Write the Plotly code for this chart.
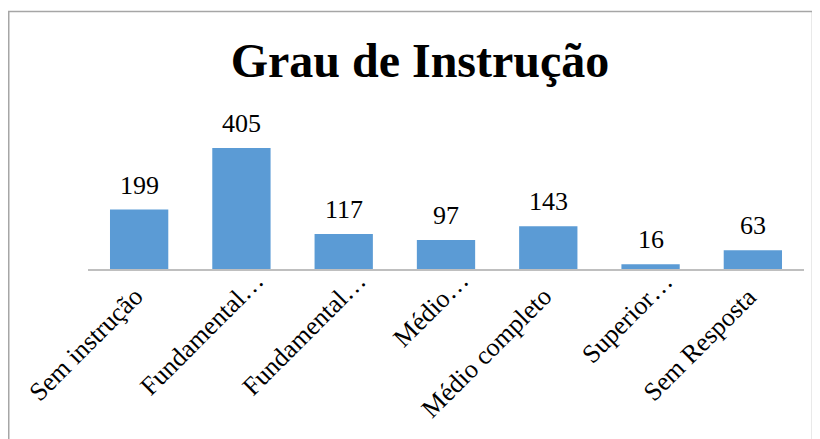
import plotly.graph_objects as go

categories = ["Sem instrução", "Fundamental…", "Fundamental… ", "Médio…", "Médio completo", "Superior…", "Sem Resposta"]
values = [199, 405, 117, 97, 143, 16, 63]

FONT = "Liberation Serif"

# page body has an 8px margin; figure is placed at (8, 8)
W, H = 812, 431
ml, mr, mt, mb = 80, 16, 111, 170
pw, ph = W - ml - mr, H - mt - mb

fig = go.Figure()
fig.add_trace(go.Bar(
    x=categories, y=values,
    marker=dict(color="#5B9BD5", line=dict(width=0)),
    hoverinfo="x+y",
))
for c, v in zip(categories, values):
    fig.add_annotation(x=c, y=v, text=str(v), showarrow=False, yanchor="bottom",
                       yshift=8, font=dict(family=FONT, size=26, color="black"))

# rotated category labels (truncated labels sit a little higher, as in the source)
for c in categories:
    trunc = c.strip().endswith("…")
    fig.add_annotation(x=c, y=0, text=c.strip(), showarrow=False, textangle=-45,
                       xanchor="right", yanchor="top",
                       xshift=31 if trunc else 12, yshift=6 if trunc else -10,
                       font=dict(family=FONT, size=26, color="black"))

def px2paper_x(px):
    return (px - ml) / pw

def px2paper_y(py):
    return (H - mb - py) / ph

fig.add_shape(type="rect", xref="paper", yref="paper",
              x0=px2paper_x(0.75), x1=px2paper_x(804.5), y0=px2paper_y(460), y1=px2paper_y(3.5),
              line=dict(color="#A6A6A6", width=1.5), fillcolor="rgba(0,0,0,0)", layer="below")

fig.update_layout(
    width=W, height=H, autosize=False,
    margin=dict(l=ml, r=mr, t=mt, b=mb),
    paper_bgcolor="white", plot_bgcolor="white",
    font=dict(family=FONT, color="black"),
    showlegend=False,
    bargap=0.43,
    title=dict(text="<b>Grau de Instrução</b>", x=412 / W, xanchor="center",
               y=1 - 52 / H, yanchor="middle",
               font=dict(family=FONT, size=48, color="black")),
    xaxis=dict(showline=True, linecolor="#BFBFBF", linewidth=1.5, ticks="",
               range=[-0.5, len(categories) - 0.5], autorange=False,
               showticklabels=False, showgrid=False, zeroline=False),
    yaxis=dict(range=[0, 502], visible=False, showgrid=False, zeroline=False),
)

fig.write_html("out.html")
